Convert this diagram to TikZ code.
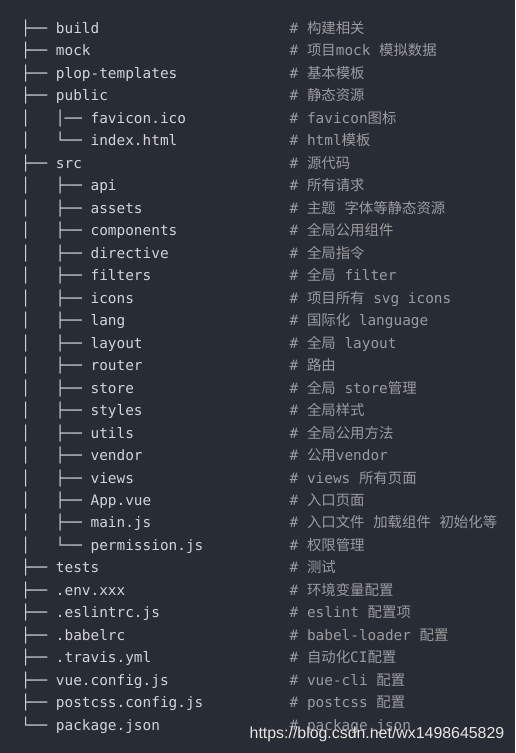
\documentclass[tikz,border=0pt]{standalone}
\usepackage{fontspec}
\newfontfamily\monofnt{DejaVu Sans Mono}
\newfontfamily\cjk{Noto Sans CJK SC}
\newfontfamily\wmfnt{Liberation Sans}
\definecolor{bgcol}{HTML}{282C34}
\definecolor{treecol}{HTML}{D2D4D8}
\definecolor{cmtcol}{HTML}{9A9C9F}
\definecolor{wmcol}{HTML}{E6E6E6}
\newcommand\zh[1]{{\cjk #1}}
\tikzset{
  treerow/.style={anchor=base west, inner sep=0pt, text=treecol,
    font=\monofnt\fontsize{14.4}{14.4}\selectfont},
  cmtrow/.style={anchor=base west, inner sep=0pt, text=cmtcol,
    font=\monofnt\fontsize{14.4}{14.4}\selectfont},
  wmark/.style={anchor=base west, inner sep=0pt, text=wmcol,
    font=\wmfnt\fontsize{15.9}{15.9}\selectfont}
}
\begin{document}
\begin{tikzpicture}[x=1pt,y=-1pt]
\fill[bgcol] (0,0) rectangle (515,753);
\useasboundingbox (0,0) rectangle (515,753);
\def\tx{21.1}
\def\cx{289.5}
\def\by{33.4}
\def\dy{22.48}
% tree column
\node[treerow] (t0)  at (\tx,{\by+\dy*0})  {├── build};
\node[treerow] (t1)  at (\tx,{\by+\dy*1})  {├── mock};
\node[treerow] (t2)  at (\tx,{\by+\dy*2})  {├── plop-templates};
\node[treerow] (t3)  at (\tx,{\by+\dy*3})  {├── public};
\node[treerow] (t4)  at (\tx,{\by+\dy*4})  {│~~~│── favicon.ico};
\node[treerow] (t5)  at (\tx,{\by+\dy*5})  {│~~~└── index.html};
\node[treerow] (t6)  at (\tx,{\by+\dy*6})  {├── src};
\node[treerow] (t7)  at (\tx,{\by+\dy*7})  {│~~~├── api};
\node[treerow] (t8)  at (\tx,{\by+\dy*8})  {│~~~├── assets};
\node[treerow] (t9)  at (\tx,{\by+\dy*9})  {│~~~├── components};
\node[treerow] (t10) at (\tx,{\by+\dy*10}) {│~~~├── directive};
\node[treerow] (t11) at (\tx,{\by+\dy*11}) {│~~~├── filters};
\node[treerow] (t12) at (\tx,{\by+\dy*12}) {│~~~├── icons};
\node[treerow] (t13) at (\tx,{\by+\dy*13}) {│~~~├── lang};
\node[treerow] (t14) at (\tx,{\by+\dy*14}) {│~~~├── layout};
\node[treerow] (t15) at (\tx,{\by+\dy*15}) {│~~~├── router};
\node[treerow] (t16) at (\tx,{\by+\dy*16}) {│~~~├── store};
\node[treerow] (t17) at (\tx,{\by+\dy*17}) {│~~~├── styles};
\node[treerow] (t18) at (\tx,{\by+\dy*18}) {│~~~├── utils};
\node[treerow] (t19) at (\tx,{\by+\dy*19}) {│~~~├── vendor};
\node[treerow] (t20) at (\tx,{\by+\dy*20}) {│~~~├── views};
\node[treerow] (t21) at (\tx,{\by+\dy*21}) {│~~~├── App.vue};
\node[treerow] (t22) at (\tx,{\by+\dy*22}) {│~~~├── main.js};
\node[treerow] (t23) at (\tx,{\by+\dy*23}) {│~~~└── permission.js};
\node[treerow] (t24) at (\tx,{\by+\dy*24}) {├── tests};
\node[treerow] (t25) at (\tx,{\by+\dy*25}) {├── .env.xxx};
\node[treerow] (t26) at (\tx,{\by+\dy*26}) {├── .eslintrc.js};
\node[treerow] (t27) at (\tx,{\by+\dy*27}) {├── .babelrc};
\node[treerow] (t28) at (\tx,{\by+\dy*28}) {├── .travis.yml};
\node[treerow] (t29) at (\tx,{\by+\dy*29}) {├── vue.config.js};
\node[treerow] (t30) at (\tx,{\by+\dy*30}) {├── postcss.config.js};
\node[treerow] (t31) at (\tx,{\by+\dy*31}) {└── package.json};
% comment column
\node[cmtrow] (c0)  at (\cx,{\by+\dy*0})  {\# \zh{构建相关}};
\node[cmtrow] (c1)  at (\cx,{\by+\dy*1})  {\# \zh{项目}mock \zh{模拟数据}};
\node[cmtrow] (c2)  at (\cx,{\by+\dy*2})  {\# \zh{基本模板}};
\node[cmtrow] (c3)  at (\cx,{\by+\dy*3})  {\# \zh{静态资源}};
\node[cmtrow] (c4)  at (\cx,{\by+\dy*4})  {\# favicon\zh{图标}};
\node[cmtrow] (c5)  at (\cx,{\by+\dy*5})  {\# html\zh{模板}};
\node[cmtrow] (c6)  at (\cx,{\by+\dy*6})  {\# \zh{源代码}};
\node[cmtrow] (c7)  at (\cx,{\by+\dy*7})  {\# \zh{所有请求}};
\node[cmtrow] (c8)  at (\cx,{\by+\dy*8})  {\# \zh{主题} \zh{字体等静态资源}};
\node[cmtrow] (c9)  at (\cx,{\by+\dy*9})  {\# \zh{全局公用组件}};
\node[cmtrow] (c10) at (\cx,{\by+\dy*10}) {\# \zh{全局指令}};
\node[cmtrow] (c11) at (\cx,{\by+\dy*11}) {\# \zh{全局} filter};
\node[cmtrow] (c12) at (\cx,{\by+\dy*12}) {\# \zh{项目所有} svg icons};
\node[cmtrow] (c13) at (\cx,{\by+\dy*13}) {\# \zh{国际化} language};
\node[cmtrow] (c14) at (\cx,{\by+\dy*14}) {\# \zh{全局} layout};
\node[cmtrow] (c15) at (\cx,{\by+\dy*15}) {\# \zh{路由}};
\node[cmtrow] (c16) at (\cx,{\by+\dy*16}) {\# \zh{全局} store\zh{管理}};
\node[cmtrow] (c17) at (\cx,{\by+\dy*17}) {\# \zh{全局样式}};
\node[cmtrow] (c18) at (\cx,{\by+\dy*18}) {\# \zh{全局公用方法}};
\node[cmtrow] (c19) at (\cx,{\by+\dy*19}) {\# \zh{公用}vendor};
\node[cmtrow] (c20) at (\cx,{\by+\dy*20}) {\# views \zh{所有页面}};
\node[cmtrow] (c21) at (\cx,{\by+\dy*21}) {\# \zh{入口页面}};
\node[cmtrow] (c22) at (\cx,{\by+\dy*22}) {\# \zh{入口文件} \zh{加载组件} \zh{初始化等}};
\node[cmtrow] (c23) at (\cx,{\by+\dy*23}) {\# \zh{权限管理}};
\node[cmtrow] (c24) at (\cx,{\by+\dy*24}) {\# \zh{测试}};
\node[cmtrow] (c25) at (\cx,{\by+\dy*25}) {\# \zh{环境变量配置}};
\node[cmtrow] (c26) at (\cx,{\by+\dy*26}) {\# eslint \zh{配置项}};
\node[cmtrow] (c27) at (\cx,{\by+\dy*27}) {\# babel-loader \zh{配置}};
\node[cmtrow] (c28) at (\cx,{\by+\dy*28}) {\# \zh{自动化}CI\zh{配置}};
\node[cmtrow] (c29) at (\cx,{\by+\dy*29}) {\# vue-cli \zh{配置}};
\node[cmtrow] (c30) at (\cx,{\by+\dy*30}) {\# postcss \zh{配置}};
\node[cmtrow] (c31) at (\cx,{\by+\dy*31}) {\# package.json};
% watermark
\node[wmark] (wm) at (249.5,738.3) {https://blog.csdn.net/wx1498645829};
\end{tikzpicture}
\end{document}
